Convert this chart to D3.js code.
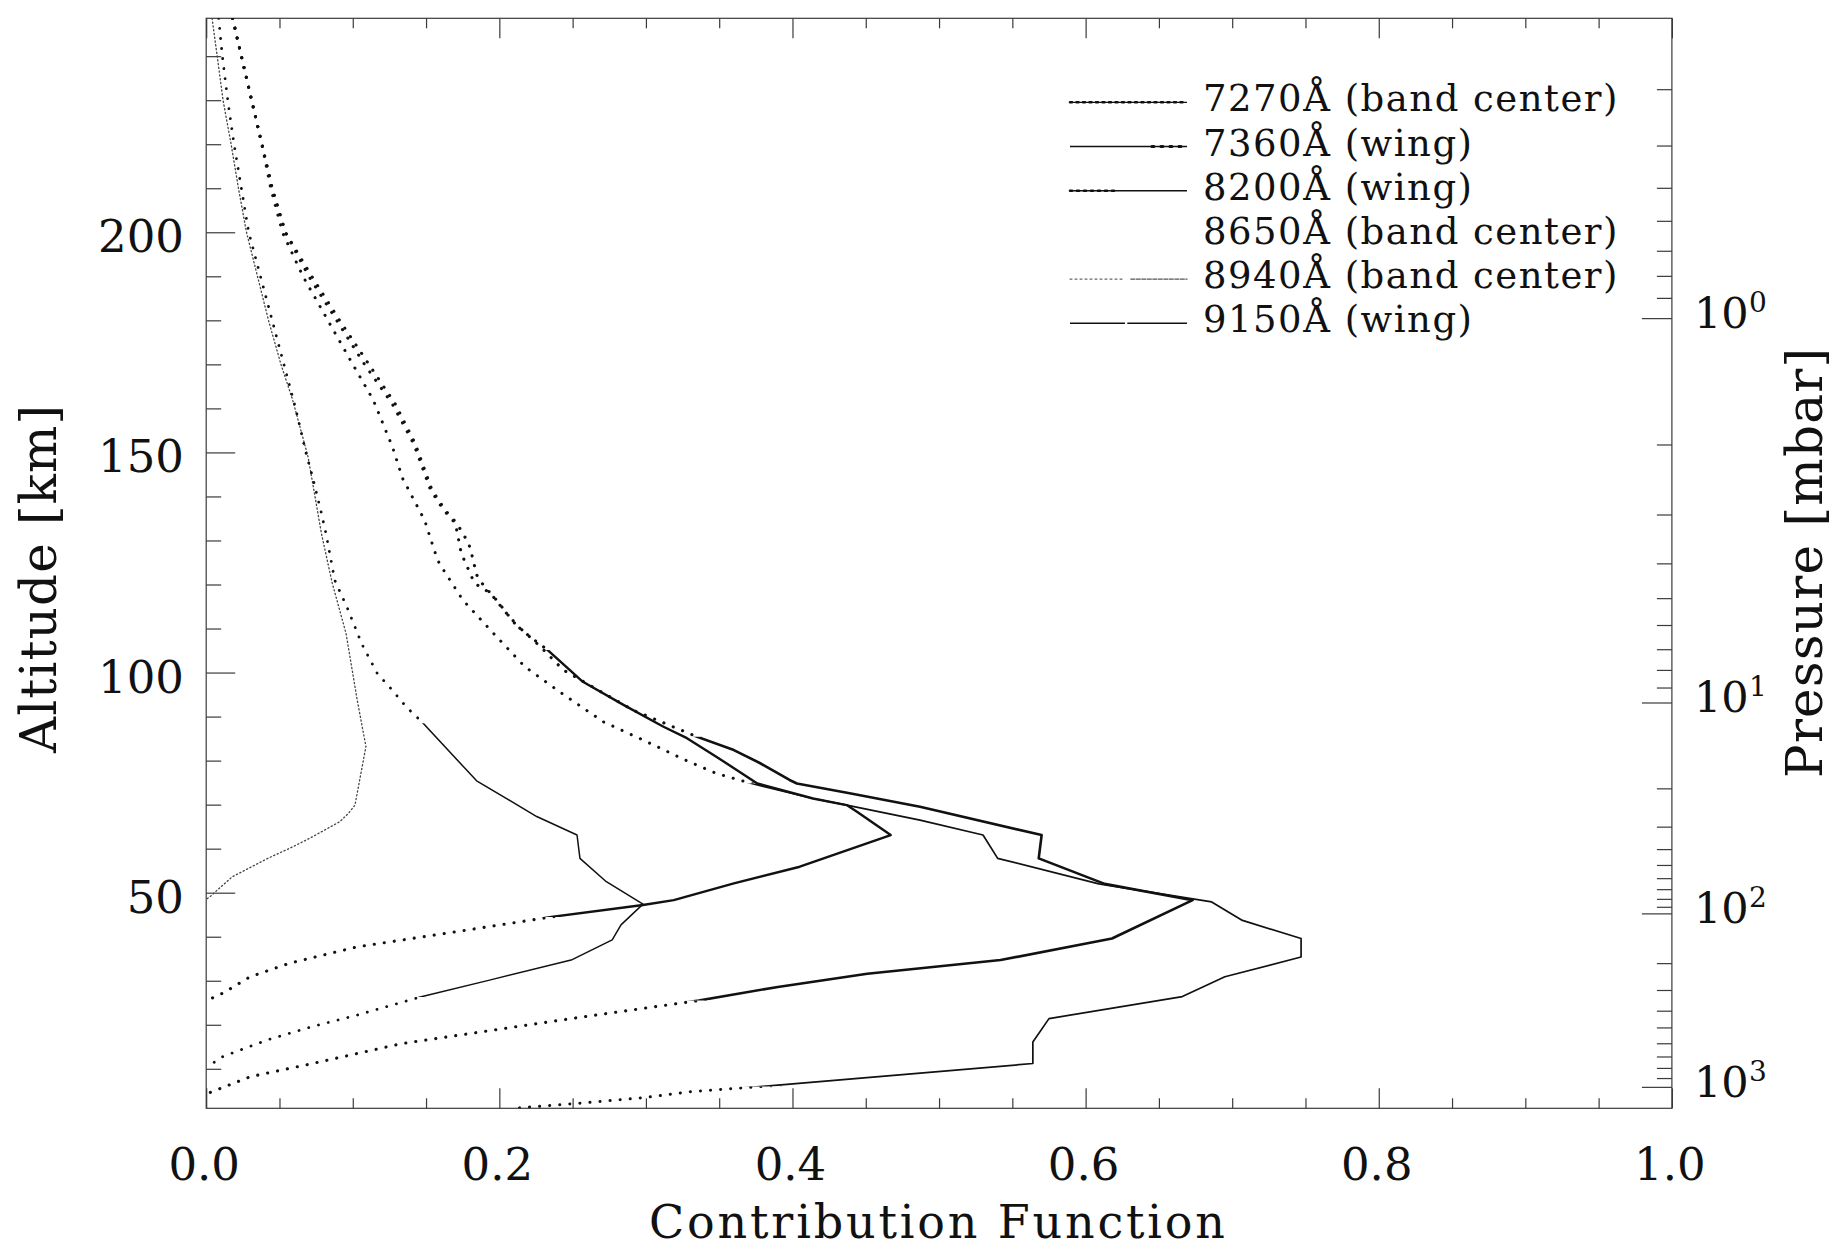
<!DOCTYPE html>
<html><head><meta charset="utf-8">
<script src="https://cdn.jsdelivr.net/npm/d3@7"></script>
<style>
body{margin:0;background:#fff}
svg{display:block}
text{font-family:"DejaVu Serif",serif;fill:#111}
</style>
</head><body>
<svg id="c" width="1837" height="1249"></svg>
<script>
// ---------- data ----------
const xTickValues = [0, 0.2, 0.4, 0.6, 0.8, 1.0];
const xTickLabels = ["0.0", "0.2", "0.4", "0.6", "0.8", "1.0"];
const altMajorTicks = [50, 100, 150, 200];
const altMinorTicks = [10,20,30,40,60,70,80,90,110,120,130,140,160,170,180,190,210,220,230,240];
// pressure levels [mbar] and the altitude [km] where they sit on the right axis
const pressureLevels = [0.3,0.4,0.5,0.6,0.7,0.8,0.9,1,2,3,4,5,6,7,8,9,10,20,30,40,50,60,70,80,90,100,200,300,400,500,600,700,800,900,1000];
const pressureAltitudes = [232.5,219.7,210.1,202.6,195.8,190.1,185.1,180.5,151.8,135.9,124.8,116.9,110.8,105.3,100.6,96.6,93.2,73.7,65.0,59.9,56.3,53.3,50.8,48.6,46.8,45.3,34.0,27.9,23.2,19.4,15.8,12.8,10.2,7.9,5.9];
const pressureLabelLevels = [1, 10, 100, 1000];
const pressureLabelExps = ["0", "1", "2", "3"];

const legendLabels = ["7270Å (band center)", "7360Å (wing)", "8200Å (wing)", "8650Å (band center)", "8940Å (band center)", "9150Å (wing)"];

// [altitude km, contribution function]
const cf7270 = [[248.6,0.018],[240,0.024],[230,0.031],[220,0.038],[210,0.045],[200,0.054],[190,0.070],[180,0.089],[170,0.108],[161,0.127],[152,0.1415],[141.5,0.153],[136.9,0.162],[133.9,0.170],[127.1,0.174],[120.3,0.183],[118,0.194],[113.8,0.204],[109.7,0.215],[106.6,0.227],[105.1,0.233],[97.9,0.257],[92.6,0.285],[87.7,0.312],[85.1,0.328],[80.9,0.348],[74.8,0.376],[71.4,0.414],[69.9,0.437],[68.4,0.444],[63.1,0.467],[55.9,0.405],[52.1,0.360],[48.3,0.319],[47.2,0.298],[44.5,0.2355],[40.8,0.164],[37.7,0.103],[34.0,0.057],[30.9,0.030],[27.2,0.0115],[25.6,0.001]];
const cf7360 = [[248.6,0.018],[240,0.024],[230,0.031],[220,0.038],[210,0.045],[200,0.054],[190,0.072],[180,0.091],[170,0.111],[161,0.129],[152,0.1426],[141.5,0.154],[136.9,0.163],[133.9,0.171],[129.4,0.179],[127.1,0.181],[122.2,0.1845],[119.9,0.189],[116.1,0.199],[111.5,0.2095],[105.9,0.228],[100.6,0.2436],[91.5,0.291],[85.4,0.335],[82.4,0.360],[79.4,0.378],[75.6,0.398],[74.8,0.403],[72.6,0.439],[69.5,0.487],[63.1,0.570],[57.8,0.568],[52,0.613],[48.3,0.673],[39.6,0.618],[34.7,0.542],[31.6,0.451],[28.6,0.39],[25.5,0.336],[21.7,0.255],[18.7,0.194],[15.7,0.133],[11.2,0.0725],[8.2,0.030],[4.4,0.001]];
const cf8200 = [[248.6,0.018],[240,0.024],[230,0.031],[220,0.038],[210,0.044],[200,0.052],[190,0.066],[180,0.083],[170,0.100],[161.9,0.114],[151.3,0.127],[144.1,0.134],[134.6,0.149],[127.4,0.156],[124.8,0.159],[116.5,0.175],[108.9,0.196],[101.3,0.2175],[95.3,0.2425],[88.8,0.271],[84.7,0.298],[80.1,0.327],[77.1,0.348],[74.8,0.372],[71.4,0.414],[69.9,0.437],[66.5,0.487],[63.1,0.530],[57.8,0.540],[52,0.609],[47.9,0.686],[43.7,0.707],[39.6,0.747],[35.4,0.747],[30.9,0.695],[26.4,0.666],[21.4,0.575],[16.1,0.564],[11.2,0.564],[6.0,0.380],[4.8,0.33],[3.5,0.30],[2.2,0.255],[1.03,0.21]];
const cf8650 = []; // its line is not visible in the reference
const cf8940 = [[248.6,0.004],[240,0.0075],[230,0.0115],[220,0.017],[210,0.022],[200,0.0275],[190,0.035],[180,0.0425],[170,0.051],[161.9,0.059],[149,0.0695],[131.6,0.0786],[120.3,0.086],[108.9,0.0954],[93.8,0.103],[83.2,0.109],[69.9,0.1015],[68,0.097],[66.1,0.091],[65,0.085],[62.7,0.0725],[60.4,0.059],[57.8,0.042],[53.6,0.0177],[49.1,0.0026],[48.5,0]];
const cf9150 = [[248.6,0.0085],[240,0.011],[230,0.0147],[220,0.019],[210,0.024],[200,0.029],[190,0.037],[180,0.045],[170,0.053],[160,0.061],[150,0.068],[144.5,0.0725],[136.2,0.0786],[131.6,0.0817],[126.3,0.0847],[121,0.0877],[114.2,0.0969],[106.6,0.106],[99.8,0.1167],[96,0.127],[92.2,0.1365],[88.5,0.148],[75.4,0.1845],[67.3,0.2255],[63.1,0.253],[57.8,0.255],[52.5,0.273],[47.4,0.298],[42.7,0.283],[39.3,0.277],[34.7,0.249],[30.2,0.194],[26.3,0.146],[22.2,0.103],[19.6,0.0725],[16.6,0.042],[12.8,0.0115],[10.5,0.001]];

// ---------- styles (kept apart from data) ----------
const seriesList = [
  {key:"7270", data:cf7270, solid:[44.5,105.1], w:2.4, dot:3.1, gap:10},
  {key:"7360", data:cf7360, solid:[25.5,85.4],  w:2.6, dot:3.1, gap:10},
  {key:"8200", data:cf8200, solid:[6.0,74.8],   w:1.7, dot:3.0, gap:10},
  {key:"8650", data:cf8650, solid:null, w:0, dot:0, gap:0},
  {key:"8940", data:cf8940, solid:null, w:0, dot:1.3, gap:2.6, faint:true},
  {key:"9150", data:cf9150, solid:[26.3,88.5],  w:1.5, dot:2.8, gap:10}
];

const W = 1837, H = 1249;
const L = 206.2, R = 1671.9, T = 18.3, B = 1108.3;
const svg = d3.select("#c");
svg.append("rect").attr("width",W).attr("height",H).attr("fill","#fff");

const x = d3.scaleLinear().domain([0,1]).range([L,R]);
const y = d3.scaleLinear().domain([1.03,248.6]).range([B,T]);
const altOfP = d3.scaleLog().domain(pressureLevels).range(pressureAltitudes);
const yP = d3.scaleLog().domain(pressureLevels).range(pressureLevels.map(p => y(altOfP(p))));

const defs = svg.append("defs");
defs.append("clipPath").attr("id","plot").append("rect").attr("x",L).attr("y",T).attr("width",R-L).attr("height",B-T);

// ---------- axes ----------
const axisColor = "#3a3a3a";
function styleAxis(g){ g.select(".domain").remove(); g.selectAll("line").attr("stroke",axisColor).attr("stroke-width",1.2); g.selectAll("text").remove(); }

const minorX = d3.range(0,1.0001,0.05).filter(v => Math.abs(v*5 - Math.round(v*5))>1e-6);
svg.append("g").attr("transform",`translate(0,${B})`).call(d3.axisTop(x).tickValues(xTickValues).tickSize(20).tickSizeOuter(0)).call(styleAxis);
svg.append("g").attr("transform",`translate(0,${B})`).call(d3.axisTop(x).tickValues(minorX).tickSize(10).tickSizeOuter(0)).call(styleAxis);
svg.append("g").attr("transform",`translate(0,${T})`).call(d3.axisBottom(x).tickValues(xTickValues).tickSize(20).tickSizeOuter(0)).call(styleAxis);
svg.append("g").attr("transform",`translate(0,${T})`).call(d3.axisBottom(x).tickValues(minorX).tickSize(10).tickSizeOuter(0)).call(styleAxis);

svg.append("g").attr("transform",`translate(${L},0)`).call(d3.axisRight(y).tickValues(altMajorTicks).tickSize(29).tickSizeOuter(0)).call(styleAxis);
svg.append("g").attr("transform",`translate(${L},0)`).call(d3.axisRight(y).tickValues(altMinorTicks).tickSize(15).tickSizeOuter(0)).call(styleAxis);

const pMinor = pressureLevels.filter(p => !pressureLabelLevels.includes(p));
svg.append("g").attr("transform",`translate(${R},0)`).call(d3.axisLeft(yP).tickValues(pressureLabelLevels).tickSize(30).tickSizeOuter(0)).call(styleAxis);
svg.append("g").attr("transform",`translate(${R},0)`).call(d3.axisLeft(yP).tickValues(pMinor).tickSize(15).tickSizeOuter(0)).call(styleAxis);

svg.append("rect").attr("x",L).attr("y",T).attr("width",R-L).attr("height",B-T)
  .attr("fill","none").attr("stroke",axisColor).attr("stroke-width",1.2);

// tick labels
svg.append("g").selectAll("text").data(xTickValues).join("text")
  .attr("x",d=>x(d)-2).attr("y",1180).attr("text-anchor","middle")
  .attr("font-size",45).text((d,i)=>xTickLabels[i]);
svg.append("g").selectAll("text").data(altMajorTicks).join("text")
  .attr("x",184).attr("y",d=>y(d)+20).attr("text-anchor","end")
  .attr("font-size",45).text(d=>d);
const pl = svg.append("g").selectAll("g").data(pressureLabelLevels).join("g")
  .attr("transform",d=>`translate(1694,${yP(d)})`);
pl.append("text").attr("x",0).attr("y",10).attr("font-size",43).text("10");
pl.append("text").attr("x",55).attr("y",-6).attr("font-size",28).text((d,i)=>pressureLabelExps[i]);

// axis titles
svg.append("text").attr("x",937).attr("y",1238).attr("text-anchor","middle")
  .attr("font-size",46).attr("textLength",576).attr("lengthAdjust","spacing").text("Contribution Function");
svg.append("text").attr("transform","translate(56,579) rotate(-90)").attr("text-anchor","middle")
  .attr("font-size",50).attr("textLength",348).attr("lengthAdjust","spacing").text("Altitude [km]");
svg.append("text").attr("transform","translate(1822,563) rotate(-90)").attr("text-anchor","middle")
  .attr("font-size",50).attr("textLength",430).attr("lengthAdjust","spacing").text("Pressure [mbar]");

// ---------- curves ----------
const line = d3.line().x(d=>x(d[1])).y(d=>y(d[0]));
const plotG = svg.append("g").attr("clip-path","url(#plot)");

seriesList.forEach((s,i) => {
  if (!s.data.length) return;
  const path = line(s.data);
  if (s.solid) {
    const yTop = y(s.solid[1]), yBot = y(s.solid[0]);
    const cs = defs.append("clipPath").attr("id","solid"+i);
    cs.append("rect").attr("x",L-5).attr("y",yTop).attr("width",R-L+10).attr("height",yBot-yTop);
    const cd = defs.append("clipPath").attr("id","dot"+i);
    cd.append("rect").attr("x",L-5).attr("y",0).attr("width",R-L+10).attr("height",yTop);
    cd.append("rect").attr("x",L-5).attr("y",yBot).attr("width",R-L+10).attr("height",H-yBot);
    plotG.append("path").attr("d",path).attr("clip-path",`url(#solid${i})`)
      .attr("fill","none").attr("stroke","#111").attr("stroke-width",s.w).attr("stroke-linejoin","round");
    plotG.append("path").attr("d",path).attr("clip-path",`url(#dot${i})`)
      .attr("fill","none").attr("stroke","#111").attr("stroke-width",s.dot)
      .attr("stroke-linecap","round").attr("stroke-dasharray",`0.1 ${s.gap}`);
  } else {
    plotG.append("path").attr("d",path)
      .attr("fill","none").attr("stroke",s.faint?"#444":"#111").attr("stroke-width",s.dot)
      .attr("stroke-linecap","round").attr("stroke-dasharray",`1.2 ${s.gap}`);
  }
});

// ---------- legend ----------
const legX0 = 1070, legX1 = 1187, legTextX = 1203, legY0 = 102.3, legDy = 44.2;
const legendSegments = [
  [{a:0,b:1,w:1.2},{a:0,b:1,w:2.6,dash:"2 4.5"}],
  [{a:0,b:1,w:1.4},{a:0.7,b:1,w:3,dash:"2 7"}],
  [{a:0,b:0.38,w:2.6,dash:"2 5"},{a:0,b:1,w:1.5}],
  [],
  [{a:0,b:0.45,w:1.2,dash:"2 3",c:"#666"},{a:0.52,b:1,w:1.3,dash:"4 1.5",c:"#555"}],
  [{a:0,b:0.47,w:1.5},{a:0.49,b:1,w:1.5}]
];
const leg = svg.append("g");
legendLabels.forEach((lab,i) => {
  const yy = legY0 + i*legDy;
  legendSegments[i].forEach(sg => {
    leg.append("line").attr("x1",legX0+(legX1-legX0)*sg.a).attr("x2",legX0+(legX1-legX0)*sg.b)
      .attr("y1",yy).attr("y2",yy).attr("stroke",sg.c||"#111").attr("stroke-width",sg.w)
      .attr("stroke-dasharray",sg.dash||null).attr("stroke-linecap",sg.dash?"round":"butt");
  });
  leg.append("text").attr("x",legTextX).attr("y",yy+9).attr("font-size",37)
    .attr("letter-spacing",1.5).text(lab);
});
</script>
</body></html>
